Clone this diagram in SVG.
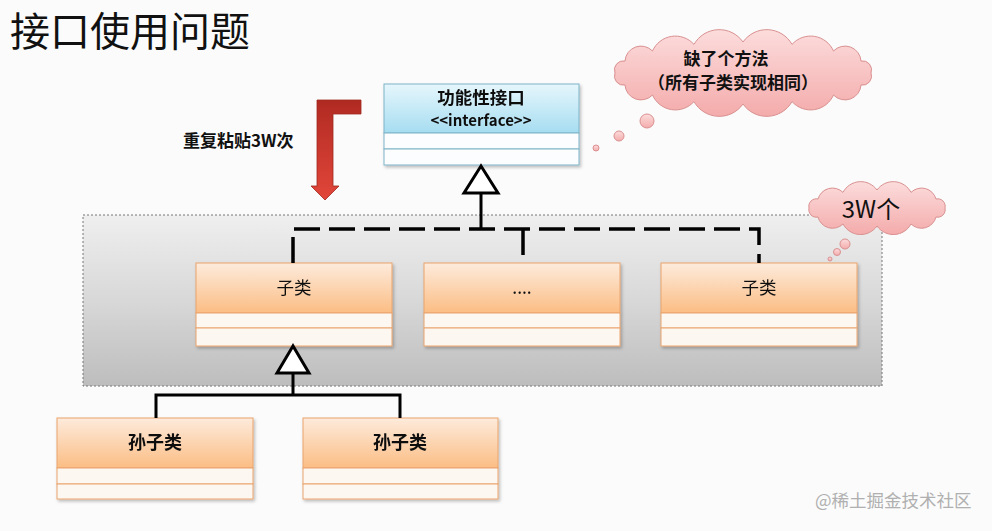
<svg xmlns="http://www.w3.org/2000/svg" width="992" height="531" viewBox="0 0 992 531">
<defs>
<linearGradient id="gOrange" x1="0" y1="0" x2="0" y2="1">
<stop offset="0" stop-color="#fdebdc"/><stop offset="1" stop-color="#fbbd84"/>
</linearGradient>
<linearGradient id="gBlue" x1="0" y1="0" x2="0" y2="1">
<stop offset="0" stop-color="#e6f6fc"/><stop offset="1" stop-color="#a6ddf1"/>
</linearGradient>
<linearGradient id="gGray" x1="0" y1="0" x2="0" y2="1">
<stop offset="0" stop-color="#efefef"/><stop offset="0.5" stop-color="#d8d8d8"/><stop offset="1" stop-color="#bdbdbd"/>
</linearGradient>
<linearGradient id="gPink" x1="0" y1="0" x2="0" y2="1">
<stop offset="0" stop-color="#fcdcdc"/><stop offset="1" stop-color="#f4abab"/>
</linearGradient>
<linearGradient id="gRed" x1="0" y1="0" x2="0" y2="1">
<stop offset="0" stop-color="#b02a22"/><stop offset="1" stop-color="#e2463a"/>
</linearGradient>
<filter id="sh" x="-10%" y="-10%" width="130%" height="140%">
<feDropShadow dx="1.5" dy="2" stdDeviation="1.5" flood-color="#000" flood-opacity="0.25"/>
</filter>
</defs>
<style>
text{font-family:"Noto Sans CJK SC","Liberation Sans",sans-serif;fill:#111}
.hdrO{fill:url(#gOrange);stroke:#eaa46c;stroke-width:1}
.cmpO{fill:#fdf7f2;stroke:#eaa46c;stroke-width:1}
.hdrB{fill:url(#gBlue);stroke:#7fb3c8;stroke-width:1}
.cmpB{fill:#fbfdfe;stroke:#7fb3c8;stroke-width:1}
.lbl{text-anchor:middle}
.bold{font-weight:bold}
.cloud{fill:url(#gPink);stroke:#d99090;stroke-width:1}
.solid{fill:none;stroke:#000;stroke-width:3}
.dash{fill:none;stroke:#000;stroke-width:3.5;stroke-dasharray:26 9}
.tri{fill:#fff;stroke:#000;stroke-width:3;stroke-linejoin:miter}
</style>
<rect x="0" y="0" width="992" height="531" fill="#fbfbfb"/>
<text x="10" y="46" font-size="40">接口使用问题</text>

<g id="container">
<rect x="83" y="215" width="799" height="171" fill="url(#gGray)" stroke="#777" stroke-width="1" stroke-dasharray="2 2"/>
</g>

<g id="copy-arrow">
<polygon points="317,100 361,100 361,114 333,114 333,186 339,186 325,200 311,186 317,186" fill="url(#gRed)" stroke="#9e2a20" stroke-width="0.8"/>
<text x="183" y="147" font-size="17" class="bold">重复粘贴3W次</text>
</g>

<g id="interface" filter="url(#sh)">
<rect x="384" y="84" width="195" height="49" class="hdrB"/>
<rect x="384" y="133" width="195" height="16" class="cmpB"/>
<rect x="384" y="149" width="195" height="16" class="cmpB"/>
<text x="481" y="104" class="lbl bold" font-size="17.5">功能性接口</text>
<text x="481" y="126" class="lbl bold" font-size="15">&lt;&lt;interface&gt;&gt;</text>
</g>

<g id="sub1" filter="url(#sh)">
<rect x="196" y="263" width="196" height="50" class="hdrO"/>
<rect x="196" y="313" width="196" height="15" class="cmpO"/>
<rect x="196" y="328" width="196" height="18" class="cmpO"/>
<text x="294" y="294" class="lbl" font-size="17.5">子类</text>
</g>
<g id="sub2" filter="url(#sh)">
<rect x="424" y="263" width="196" height="50" class="hdrO"/>
<rect x="424" y="313" width="196" height="15" class="cmpO"/>
<rect x="424" y="328" width="196" height="18" class="cmpO"/>
<text x="522" y="294" class="lbl" font-size="17.5">....</text>
</g>
<g id="sub3" filter="url(#sh)">
<rect x="661" y="263" width="196" height="50" class="hdrO"/>
<rect x="661" y="313" width="196" height="15" class="cmpO"/>
<rect x="661" y="328" width="196" height="18" class="cmpO"/>
<text x="759" y="294" class="lbl" font-size="17.5">子类</text>
</g>
<g id="grand1" filter="url(#sh)">
<rect x="57" y="418" width="196" height="50" class="hdrO"/>
<rect x="57" y="468" width="196" height="16" class="cmpO"/>
<rect x="57" y="484" width="196" height="15" class="cmpO"/>
<text x="155" y="449" class="lbl bold" font-size="18">孙子类</text>
</g>
<g id="grand2" filter="url(#sh)">
<rect x="303" y="418" width="195" height="50" class="hdrO"/>
<rect x="303" y="468" width="195" height="16" class="cmpO"/>
<rect x="303" y="484" width="195" height="15" class="cmpO"/>
<text x="400" y="449" class="lbl bold" font-size="18">孙子类</text>
</g>

<g id="connectors">
<path class="dash" d="M293,263 V229 H759 V263 M523,229 V263"/>
<path class="solid" d="M481,193 V229"/>
<polygon class="tri" points="481,166 464,193 498,193"/>
<path class="solid" d="M156,418 V395 H400 V418 M293,373 V395"/>
<polygon class="tri" points="293,346 277,373 309,373"/>
</g>

<g id="cloud1">
<path class="cloud" d="M615,73 A9,9 0 0 1 625,61 A16,16 0 0 1 652.5,51 A25,25 0 0 1 694,44.4 A29,29 0 0 1 743,42 A29,29 0 0 1 792,44.4 A25,25 0 0 1 833.5,51 A16,16 0 0 1 861,61 A9,9 0 0 1 871,73 A9,9 0 0 1 861,85 A16,16 0 0 1 833.5,95 A25,25 0 0 1 792,101.6 A29,29 0 0 1 743,104 A29,29 0 0 1 694,101.6 A25,25 0 0 1 652.5,95 A16,16 0 0 1 625,85 A9,9 0 0 1 615,73 Z"/>
<circle class="cloud" cx="647" cy="121" r="7"/>
<circle class="cloud" cx="619" cy="136" r="5"/>
<circle class="cloud" cx="596" cy="148" r="3"/>
<text x="726" y="65" class="lbl bold" font-size="17">缺了个方法</text>
<text x="733" y="89" class="lbl bold" font-size="17">（所有子类实现相同）</text>
</g>

<g id="cloud2">
<path class="cloud" d="M809,208 A7.5,7.5 0 0 1 818,199 A15,15 0 0 1 843,192.4 A20,20 0 0 1 877,190 A20,20 0 0 1 911,192.4 A15,15 0 0 1 936,199 A7.5,7.5 0 0 1 945,208 A7.5,7.5 0 0 1 936,217 A15,15 0 0 1 911,224 A20,20 0 0 1 877,226 A20,20 0 0 1 843,224 A15,15 0 0 1 818,217 A7.5,7.5 0 0 1 809,208 Z"/>
<circle class="cloud" cx="845" cy="244" r="5"/>
<circle class="cloud" cx="837" cy="252" r="3.5"/>
<circle class="cloud" cx="830" cy="259" r="2"/>
<text x="871" y="218" class="lbl" font-size="24">3W个</text>
</g>

<text x="815" y="507" font-size="17.5" style="fill:#b0b0b0">@稀土掘金技术社区</text>
</svg>
